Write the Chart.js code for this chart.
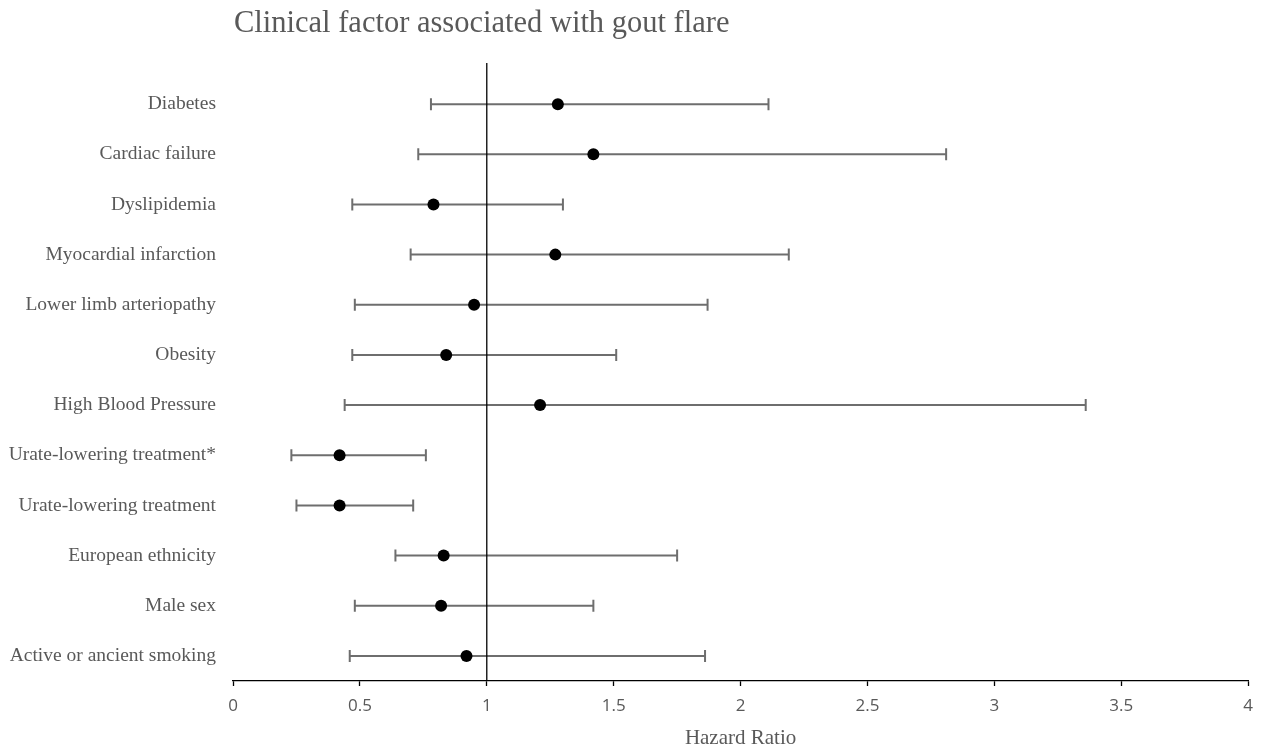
<!DOCTYPE html>
<html>
<head>
<meta charset="utf-8">
<script src="https://cdn.jsdelivr.net/npm/chart.js@4/dist/chart.umd.min.js"></script>
<style>
  html, body { margin: 0; padding: 0; background: #ffffff; }
  #wrap { width: 1263px; height: 753px; position: relative; }
</style>
</head>
<body>
<div id="wrap"><canvas id="c"></canvas></div>
<script>
// ---- Data ----
const chartTitle = "Clinical factor associated with gout flare";
const xAxisTitle = "Hazard Ratio";
const categories = [
  "Diabetes",
  "Cardiac failure",
  "Dyslipidemia",
  "Myocardial infarction",
  "Lower limb arteriopathy",
  "Obesity",
  "High Blood Pressure",
  "Urate-lowering treatment*",
  "Urate-lowering treatment",
  "European ethnicity",
  "Male sex",
  "Active or ancient smoking"
];
const hazardRatio = [1.28, 1.42, 0.79, 1.27, 0.95, 0.84, 1.21, 0.42, 0.42, 0.83, 0.82, 0.92];
const ciLower     = [0.78, 0.73, 0.47, 0.70, 0.48, 0.47, 0.44, 0.23, 0.25, 0.64, 0.48, 0.46];
const ciUpper     = [2.11, 2.81, 1.30, 2.19, 1.87, 1.51, 3.36, 0.76, 0.71, 1.75, 1.42, 1.86];
const xTickValues = [0, 0.5, 1, 1.5, 2, 2.5, 3, 3.5, 4];
const referenceHR = 1;

// ---- Scale extents ----
const X_MIN = 0, X_MAX = 4;
const Y_TOP = -0.82, Y_BOTTOM = 11.5;

const TEXT = '#595959';
const BAR = '#6e6e6e';

const datasets = [];
// points (drawn on top)
datasets.push({
  type: 'scatter',
  data: hazardRatio.map((v, i) => ({ x: v, y: i })),
  pointRadius: 6,
  pointBackgroundColor: '#000000',
  pointBorderWidth: 0,
  showLine: false
});
// reference line at HR = 1
datasets.push({
  type: 'line',
  data: [{ x: referenceHR, y: Y_TOP }, { x: referenceHR, y: Y_BOTTOM }],
  borderColor: '#000000',
  borderWidth: 1.3,
  pointRadius: 0,
  fill: false
});
// confidence intervals with caps
categories.forEach((c, i) => {
  datasets.push({
    type: 'line',
    data: [{ x: ciLower[i], y: i }, { x: ciUpper[i], y: i }],
    borderColor: BAR,
    borderWidth: 2,
    pointStyle: 'line',
    rotation: 90,
    pointRadius: 6,
    pointBorderColor: BAR,
    pointBorderWidth: 2,
    fill: false
  });
});

const titlePlugin = {
  id: 'leftTitle',
  afterDraw(chart) {
    const ctx = chart.ctx;
    ctx.save();
    ctx.font = '30.5px "Liberation Serif", "Times New Roman", serif';
    ctx.fillStyle = TEXT;
    ctx.textAlign = 'left';
    ctx.textBaseline = 'middle';
    ctx.fillText(chartTitle, chart.chartArea.left + 1, 24);
    ctx.restore();
  }
};

new Chart(document.getElementById('c'), {
  type: 'scatter',
  data: { datasets },
  plugins: [titlePlugin],
  options: {
    responsive: true,
    maintainAspectRatio: false,
    animation: false,
    layout: { padding: { top: 63, right: 13, left: 0, bottom: 0 } },
    plugins: {
      legend: { display: false },
      tooltip: { enabled: false },
      title: { display: false }
    },
    scales: {
      x: {
        type: 'linear',
        position: 'bottom',
        min: X_MIN,
        max: X_MAX,
        afterBuildTicks: (s) => { s.ticks = xTickValues.map(v => ({ value: v })); },
        afterFit: (s) => { s.height = 72; },
        ticks: {
          color: TEXT,
          font: { family: '"Open Sans", sans-serif', size: 17 },
          padding: 10,
          maxRotation: 0,
          callback: (v) => String(v)
        },
        grid: {
          drawOnChartArea: false,
          drawTicks: true,
          tickLength: 5,
          tickWidth: 1.3,
          tickColor: '#000000'
        },
        border: { display: true, color: '#000000', width: 1.3 },
        title: {
          display: true,
          text: xAxisTitle,
          color: TEXT,
          font: { family: '"Liberation Serif", "Times New Roman", serif', size: 21 },
          padding: { top: 0, bottom: 2 }
        }
      },
      y: {
        type: 'linear',
        reverse: true,
        min: Y_TOP,
        max: Y_BOTTOM,
        afterBuildTicks: (s) => { s.ticks = categories.map((_, i) => ({ value: i })); },
        afterFit: (s) => { s.width = 233; },
        ticks: {
          color: TEXT,
          font: { family: '"Liberation Serif", "Times New Roman", serif', size: 19.5 },
          padding: 17,
          autoSkip: false,
          callback: (v) => categories[v] !== undefined ? categories[v] : ''
        },
        grid: { display: false, drawTicks: false },
        border: { display: false }
      }
    }
  }
});
</script>
</body>
</html>
